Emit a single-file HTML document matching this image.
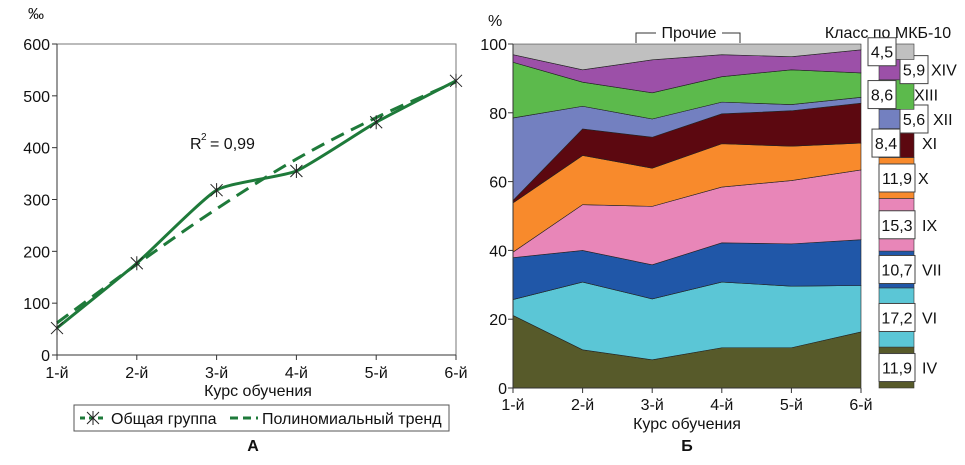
<!DOCTYPE html>
<html><head><meta charset="utf-8"><style>
body{margin:0;background:#fff;width:965px;height:460px;overflow:hidden}
svg text{font-family:"Liberation Sans",sans-serif;font-size:16px;fill:#111}
</style></head><body>
<svg id="s" width="965" height="460"></svg>
<script>
const coursesA=["1-й","2-й","3-й","4-й","5-й","6-й"];
const groupVals=[52,177,318,355,449,529];
const trendVals=[62,175,282,378,458,527];
const yTicksA=[0,100,200,300,400,500,600];
const courses=["1-й","2-й","3-й","4-й","5-й","6-й"];
const classNames=["IV","VI","VII","IX","X","XI","XII","XIII","XIV","Прочие"];
const classColors=["#575a2a","#5bc6d6","#2057a8","#e886b8","#f88a2c","#5c0810","#7380c0","#5cba4c","#9c50a8","#c0c0c0"];
const vIV=[21.1,11.1,8.2,11.7,11.7,16.3];
const vVI=[4.6,19.7,17.7,19.1,17.9,13.5];
const vVII=[12.2,9.2,9.9,11.4,12.3,13.3];
const vIX=[1.6,13.3,17.0,16.2,18.4,20.3];
const vX=[14.3,14.3,11.1,12.6,10.0,7.8];
const vXI=[0.7,7.7,9.0,8.7,10.3,11.6];
const vXII=[24.0,6.6,5.3,3.4,1.8,1.7];
const vXIII=[16.2,7.0,7.6,7.4,10.1,7.1];
const vXIV=[2.2,3.6,9.6,6.4,3.8,6.7];
const vOther=[3.1,7.5,4.6,3.1,3.7,1.7];
const totals=[11.9,17.2,10.7,15.3,11.9,8.4,5.6,8.6,5.9,4.5];
const totalLabels=["11,9","17,2","10,7","15,3","11,9","8,4","5,6","8,6","5,9","4,5"];
const yTicksB=[0,20,40,60,80,100];

const S=document.getElementById('s');const NS='http://www.w3.org/2000/svg';
function el(t,a,p){const e=document.createElementNS(NS,t);for(const k in a)e.setAttribute(k,a[k]);(p||S).appendChild(e);return e;}
function tx(x,y,s,a){const e=el('text',Object.assign({x:x,y:y},a||{}));e.textContent=s;return e;}

// Chart A
const ax=i=>57+i*(456-57)/5, ay=v=>355-v*(355-44)/600;
let g=el('g',{});
let f=el('path',{d:`M57 44H456V355`,fill:'none',stroke:'#777','stroke-width':1},g);

el('line',{x1:57,y1:44,x2:57,y2:355,stroke:'#333'},g);
el('line',{x1:57,y1:355,x2:456,y2:355,stroke:'#333'},g);
yTicksA.forEach(v=>{el('line',{x1:52,x2:57,y1:ay(v),y2:ay(v),stroke:'#333'},g);
 let t=tx(50,ay(v)+6,String(v),{'text-anchor':'end'});});
coursesA.forEach((c,i)=>{el('line',{x1:ax(i),x2:ax(i),y1:355,y2:360,stroke:'#333'},g);
 let t=tx(ax(i),378,c,{'text-anchor':'middle'});});
function smooth(vals,k){let p=vals.map((v,i)=>[ax(i),ay(v)]);let d=`M${p[0][0]} ${p[0][1]}`;
 for(let i=0;i<p.length-1;i++){const p0=p[Math.max(0,i-1)],p1=p[i],p2=p[i+1],p3=p[Math.min(p.length-1,i+2)];
 d+=` C${p1[0]+(p2[0]-p0[0])/k} ${p1[1]+(p2[1]-p0[1])/k} ${p2[0]-(p3[0]-p1[0])/k} ${p2[1]-(p3[1]-p1[1])/k} ${p2[0]} ${p2[1]}`;}return d;}
let tr=el('path',{d:smooth(trendVals,6),fill:'none',stroke:'#1e7a3a','stroke-width':3,'stroke-dasharray':'14 8'},g);

let ln=el('path',{d:smooth(groupVals,12),fill:'none',stroke:'#1e7a3a','stroke-width':3},g);

groupVals.forEach((v,i)=>{const x=ax(i),y=ay(v);let m=el('path',{d:`M${x-6} ${y-6}L${x+6} ${y+6}M${x+6} ${y-6}L${x-6} ${y+6}M${x} ${y-7}V${y+7}`,stroke:'#222','stroke-width':1},g);
 });
let r=tx(190,149,'R',{});
tx(201,140,'2',{style:'font-size:10px'});tx(210,149,'= 0,99',{});
let yt=tx(28,19,'‰',{});
let xt=tx(258,396,'Курс обучения',{'text-anchor':'middle'});
let lg=el('rect',{x:74,y:405,width:375,height:26,fill:'#fff',stroke:'#555'},g);
el('line',{x1:80,x2:106,y1:418,y2:418,stroke:'#1e7a3a','stroke-width':3,'stroke-dasharray':'5 4'},g);
el('path',{d:'M87 412L99 424M99 412L87 424M93 411V425',stroke:'#222'},g);
tx(111,424,'Общая группа',{});
el('line',{x1:230,x2:258,y1:418,y2:418,stroke:'#1e7a3a','stroke-width':3,'stroke-dasharray':'8 5'},g);
tx(262,424,'Полиномиальный тренд',{});
let la=tx(253,451,'А',{'text-anchor':'middle','font-weight':'bold'});

// Chart B
const bx=i=>513+i*(861-513)/5, by=v=>388-v*(388-44)/100;
const series=[vIV,vVI,vVII,vIX,vX,vXI,vXII,vXIII,vXIV,vOther];
let cum=courses.map(()=>0);
series.forEach((s,k)=>{const lo=cum.slice();cum=cum.map((c,i)=>c+s[i]);
 let d='M'+cum.map((v,i)=>`${bx(i)} ${by(v)}`).join('L')+'L'+lo.map((v,i)=>`${bx(i)} ${by(v)}`).reverse().join('L')+'Z';
 let a=el('path',{d:d,fill:classColors[k],stroke:'#222','stroke-width':0.6});
 });
el('line',{x1:513,y1:44,x2:513,y2:388,stroke:'#333'});el('line',{x1:513,y1:388,x2:861,y2:388,stroke:'#333'});
yTicksB.forEach(v=>{el('line',{x1:508,x2:513,y1:by(v),y2:by(v),stroke:'#333'});
 let t=tx(507,by(v)+6,String(v),{'text-anchor':'end'});});
courses.forEach((c,i)=>{el('line',{x1:bx(i),x2:bx(i),y1:388,y2:393,stroke:'#333'});
 let t=tx(bx(i),410,c,{'text-anchor':'middle'});});
tx(488,26,'%',{});
let xb=tx(687,429,'Курс обучения',{'text-anchor':'middle'});
let lb=tx(687,451,'Б',{'text-anchor':'middle','font-weight':'bold'});
el('path',{d:'M636 43V33H656M722 33H740V43',fill:'none',stroke:'#333'});
let pr=tx(689,38,'Прочие',{'text-anchor':'middle'});
let lt=tx(888,38,'Класс по МКБ-10',{'text-anchor':'middle'});
// legend column
const ly=v=>388-v*(388-44)/100;
let c2=0;const boxX=[879,879,879,879,879,872,900,868,900,868];
const romanX=[922,922,922,922,918,922,933,914,931,null];
totals.forEach((v,k)=>{const y0=ly(c2),y1=ly(c2+v);c2+=v;
 let b=el('rect',{x:879,y:y1,width:35,height:y0-y1,fill:classColors[k],stroke:'#333','stroke-width':0.6});
 
 const cy=(y0+y1)/2;const w=k<5?36:28;
 let bb=el('rect',{x:boxX[k],y:cy-14,width:w,height:28,fill:'#fff',stroke:'#444'});
 
 tx(boxX[k]+w/2,cy+6,totalLabels[k],{'text-anchor':'middle'});
 if(romanX[k]){let t=tx(romanX[k],cy+6,classNames[k],{});}
});
</script>
</body></html>
